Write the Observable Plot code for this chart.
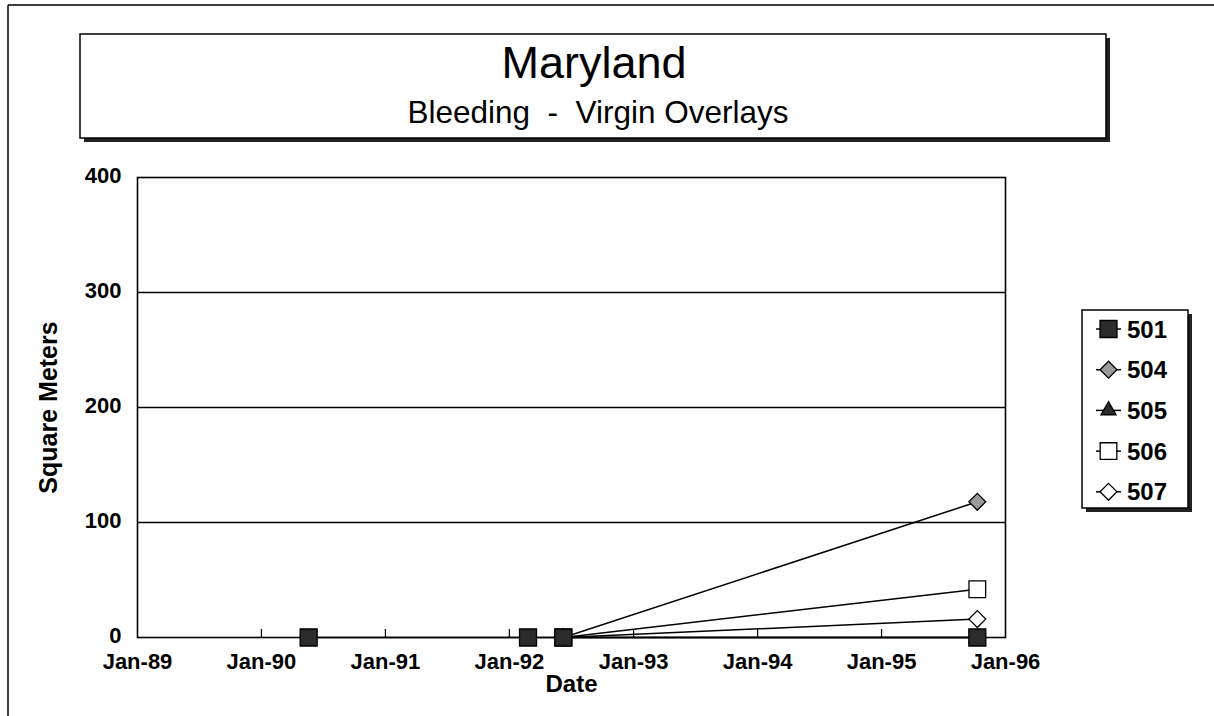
<!DOCTYPE html>
<html>
<head>
<meta charset="utf-8">
<script src="https://cdn.jsdelivr.net/npm/d3@7"></script>
<script src="https://cdn.jsdelivr.net/npm/@observablehq/plot@0.6"></script>
<style>
  body { margin: 0; background: #fff; }
  #wrap { position: relative; width: 1214px; height: 716px; overflow: hidden; background: #fff; }
  #wrap > svg { position: absolute; left: 0; top: 0; }
</style>
</head>
<body>
<div id="wrap"></div>
<script>
// ---- data ----
const seriesNames = ["501", "504", "505", "506", "507"];
const dates501 = ["1990-05-20", "1992-02-25", "1992-06-08", "1995-10-10"];
const values501 = [0, 0, 0, 0];
const dates504 = ["1992-06-08", "1995-10-10"];
const values504 = [0, 118];
const dates505 = ["1992-06-08", "1995-10-10"];
const values505 = [0, 0];
const dates506 = ["1992-06-08", "1995-10-10"];
const values506 = [0, 42];
const dates507 = ["1992-06-08", "1995-10-10"];
const values507 = [0, 16];
const yTicks = [0, 100, 200, 300, 400];
const gridValues = [100, 200, 300];
const xTickDates = ["1989-01-01", "1990-01-01", "1991-01-01", "1992-01-01", "1993-01-01", "1994-01-01", "1995-01-01", "1996-01-01"];
const xTickLabels = ["Jan-89", "Jan-90", "Jan-91", "Jan-92", "Jan-93", "Jan-94", "Jan-95", "Jan-96"];
const titleText = "Maryland";
const subtitleText = "Bleeding\u00a0\u00a0-\u00a0\u00a0Virgin Overlays";
const yLabel = "Square Meters";
const xLabel = "Date";

// ---- build table ----
const seriesData = {
  "501": [dates501, values501],
  "504": [dates504, values504],
  "505": [dates505, values505],
  "506": [dates506, values506],
  "507": [dates507, values507]
};
const rows = [];
for (const s of seriesNames) {
  const [ds, vs] = seriesData[s];
  ds.forEach((d, i) => rows.push({series: s, date: new Date(d), value: vs[i]}));
}
const tickDates = xTickDates.map(d => new Date(d));
const innerTicks = tickDates.slice(1, -1);

// ---- styles (not data) ----
const styles = {
  "501": {symbol: "square", r: 9.6, fill: "#2b2b2b"},
  "504": {symbol: "diamond2", r: 7.6, fill: "#9a9a9a"},
  "505": {symbol: "triangle", r: 5.6, fill: "#2b2b2b"},
  "506": {symbol: "square", r: 9.4, fill: "#ffffff"},
  "507": {symbol: "diamond2", r: 7.6, fill: "#ffffff"}
};
const drawOrder = ["504", "505", "506", "507", "501"];
const FONT = "Liberation Sans, Arial, Helvetica, sans-serif";

const seriesMarks = [];
for (const s of drawOrder) {
  const data = rows.filter(r => r.series === s);
  seriesMarks.push(Plot.line(data, {x: "date", y: "value", stroke: "#000", strokeWidth: 1.5}));
}
for (const s of drawOrder) {
  const data = rows.filter(r => r.series === s);
  const st = styles[s];
  seriesMarks.push(Plot.dot(data, {x: "date", y: "value", symbol: () => st.symbol, r: st.r, fill: st.fill, stroke: "#000", strokeWidth: 1.3}));
}

const chart = Plot.plot({
  width: 1214,
  height: 716,
  marginLeft: 137,
  marginRight: 209,
  marginTop: 177,
  marginBottom: 79,
  style: {fontFamily: FONT, background: "transparent", color: "#000"},
  x: {type: "utc", domain: [tickDates[0], tickDates[tickDates.length - 1]], label: null},
  y: {domain: [0, 400], label: null},
  symbol: {type: "identity"},
  marks: [
    Plot.ruleY(gridValues, {stroke: "#000", strokeWidth: 1.6}),
    Plot.ruleX(innerTicks, {y1: 0, y2: 7, stroke: "#000", strokeWidth: 1.2}),
    Plot.frame({stroke: "#000", strokeWidth: 1.6}),
    Plot.axisX({ticks: tickDates, tickFormat: d => xTickLabels[d.getUTCFullYear() - 1989], tickSize: 0, tickPadding: 16, fontSize: 22, fontWeight: "bold", label: null}),
    Plot.axisY({ticks: yTicks, tickSize: 0, tickPadding: 16, fontSize: 22, fontWeight: "bold", label: null, dy: -2}),
    ...seriesMarks,
    Plot.text([yLabel], {frameAnchor: "left", dx: -89, rotate: -90, textAnchor: "middle", lineAnchor: "middle", fontSize: 25, fontWeight: "bold"}),
    Plot.text([xLabel], {frameAnchor: "bottom", dy: 47, textAnchor: "middle", lineAnchor: "middle", fontSize: 24, fontWeight: "bold"})
  ]
});
const wrap = document.getElementById("wrap");
wrap.appendChild(chart);

// ---- overlay: page frame, title box, legend ----
const ov = d3.select(wrap).append("svg")
  .attr("width", 1214).attr("height", 716)
  .style("font-family", FONT);

// page frame lines
ov.append("line").attr("x1", 8).attr("x2", 1214).attr("y1", 5).attr("y2", 5).attr("stroke", "#000").attr("stroke-width", 1.5);
ov.append("line").attr("x1", 8).attr("x2", 8).attr("y1", 5).attr("y2", 716).attr("stroke", "#000").attr("stroke-width", 1.5);

// title box with shadow
const tb = {x: 80, y: 34, w: 1026, h: 104};
ov.append("rect").attr("x", tb.x + 4).attr("y", tb.y + 4).attr("width", tb.w).attr("height", tb.h).attr("fill", "#222");
ov.append("rect").attr("x", tb.x).attr("y", tb.y).attr("width", tb.w).attr("height", tb.h).attr("fill", "#fff").attr("stroke", "#000").attr("stroke-width", 1.5);
ov.append("text").attr("x", 594).attr("y", 78).attr("text-anchor", "middle").attr("font-size", 45).text(titleText);
ov.append("text").attr("x", 598).attr("y", 123).attr("text-anchor", "middle").attr("font-size", 31.5).text(subtitleText);

// legend box with shadow
const lb = {x: 1082, y: 310, w: 106, h: 198};
ov.append("rect").attr("x", lb.x + 4).attr("y", lb.y + 4).attr("width", lb.w).attr("height", lb.h).attr("fill", "#222");
ov.append("rect").attr("x", lb.x).attr("y", lb.y).attr("width", lb.w).attr("height", lb.h).attr("fill", "#fff").attr("stroke", "#000").attr("stroke-width", 1.5);
const symMap = {square: d3.symbolSquare, diamond2: d3.symbolDiamond2, triangle: d3.symbolTriangle};
seriesNames.forEach((s, i) => {
  const cy = 329 + i * 40.7;
  const st = styles[s];
  const g = ov.append("g");
  g.append("line").attr("x1", 1096).attr("x2", 1121).attr("y1", cy).attr("y2", cy).attr("stroke", "#000").attr("stroke-width", 1.5);
  g.append("path").attr("transform", `translate(1108.5,${cy})`)
    .attr("d", d3.symbol(symMap[st.symbol], st.r * st.r * Math.PI)())
    .attr("fill", st.fill).attr("stroke", "#000").attr("stroke-width", 1.3);
  g.append("text").attr("x", 1127).attr("y", cy).attr("dy", "0.36em").attr("font-size", 24).attr("font-weight", "bold").text(s);
});
</script>
</body>
</html>
